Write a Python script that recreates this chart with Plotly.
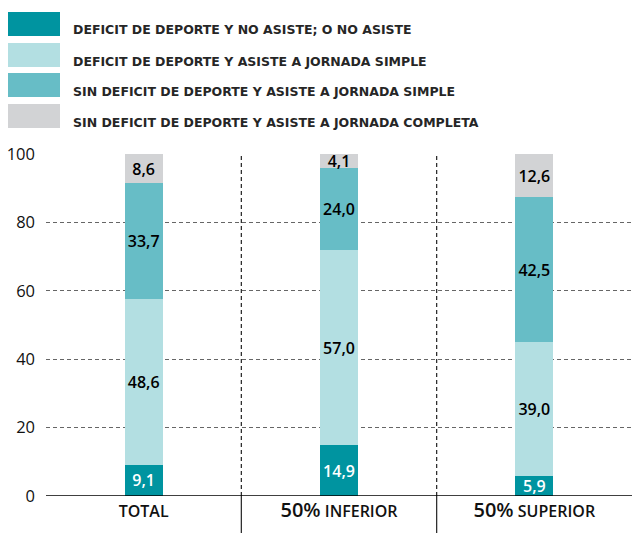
import plotly.graph_objects as go

categories = ["TOTAL", "50% INFERIOR", "50% SUPERIOR"]
series_names = [
    "DEFICIT DE DEPORTE Y NO ASISTE; O NO ASISTE",
    "DEFICIT DE DEPORTE Y ASISTE A JORNADA SIMPLE",
    "SIN DEFICIT DE DEPORTE Y ASISTE A JORNADA SIMPLE",
    "SIN DEFICIT DE DEPORTE Y ASISTE A JORNADA COMPLETA",
]
deficit_no_asiste = [9.1, 14.9, 5.9]
deficit_simple = [48.6, 57.0, 39.0]
sin_deficit_simple = [33.7, 24.0, 42.5]
sin_deficit_completa = [8.6, 4.1, 12.6]
y_ticks = [0, 20, 40, 60, 80, 100]

series_values = [deficit_no_asiste, deficit_simple, sin_deficit_simple, sin_deficit_completa]
colors = ["#0094A0", "#B3DFE2", "#67BDC6", "#D2D3D5"]
text_colors = ["white", "black", "black", "black"]

FONT = "Open Sans"
WIDE = "DejaVu Sans"
W, H = 632, 533
L, R, T, B = 46, 0, 154, 37

fig = go.Figure()
for name, vals, col, tcol in zip(series_names, series_values, colors, text_colors):
    fig.add_trace(go.Bar(
        x=categories, y=vals, name=name,
        marker=dict(color=col, line=dict(width=0)),
        width=0.194,
        texttemplate="%{y:.1f}",
        textposition="inside",
        insidetextanchor="middle",
        constraintext="none",
        textangle=0,
        textfont=dict(family=FONT, size=16, color=tcol, weight=600),
        showlegend=False,
        hoverinfo="skip",
    ))

shapes = []
# vertical separators (dashed inside plot, solid below axis)
for xb in [0.5, 1.5]:
    shapes.append(dict(type="line", xref="x", yref="y", x0=xb, x1=xb, y0=0, y1=100,
                       line=dict(color="#222", width=1.2, dash="4px,3px"), layer="below"))
    shapes.append(dict(type="line", xref="x", yref="paper", x0=xb, x1=xb, y0=-B / (H - T - B), y1=0,
                       line=dict(color="#222", width=1.2)))
# axis line
shapes.append(dict(type="line", xref="paper", yref="y", x0=0, x1=1, y0=0, y1=0,
                   line=dict(color="black", width=1.6)))

annotations = []
# custom legend (pixel -> paper coords)
ph = H - T - B
pw = W - L - R
sw_tops = [12, 43, 73, 104]
for name, col, top in zip(series_names, colors, sw_tops):
    x0 = (8 - L) / pw
    x1 = (60 - L) / pw
    y_top = (H - B - top) / ph
    y_bot = (H - B - (top + 24)) / ph
    shapes.append(dict(type="rect", xref="paper", yref="paper", x0=x0, x1=x1, y0=y_bot, y1=y_top,
                       fillcolor=col, line=dict(width=0)))
    annotations.append(dict(
        xref="paper", yref="paper", x=(71 - L) / pw, y=(H - B - (top + 18)) / ph,
        xanchor="left", yanchor="middle", showarrow=False,
        text=name, font=dict(family=WIDE, size=12.5, color="#262626", weight="bold"),
    ))

ticktext = ["TOTAL",
            "<span style='font-size:20px'>50%</span> INFERIOR",
            "<span style='font-size:20px'>50%</span> SUPERIOR"]

fig.update_layout(
    width=W, height=H,
    margin=dict(l=L, r=R, t=T, b=B, pad=0, autoexpand=False),
    plot_bgcolor="white", paper_bgcolor="white",
    barmode="stack",
    separators=",.",
    bargap=0.8,
    shapes=shapes,
    annotations=annotations,
    font=dict(family=FONT, color="#111"),
    xaxis=dict(
        range=[-0.5, 2.5], automargin=False, fixedrange=True,
        tickmode="array", tickvals=[0, 1, 2], ticktext=ticktext,
        showgrid=False, showline=False, zeroline=False, ticks="",
        tickfont=dict(family=FONT, size=16, color="#111", weight=600),
        ticklabelstandoff=4,
    ),
    yaxis=dict(
        range=[0, 100], tickvals=y_ticks, automargin=False, fixedrange=True,
        showgrid=True, gridcolor="#666", gridwidth=1, griddash="4px,3px",
        zeroline=False, showline=False, ticks="",
        ticklabelstandoff=10,
        tickfont=dict(family=FONT, size=16.5, color="#111"),
    ),
    uniformtext=dict(mode=False),
)

fig.write_html("out.html", config={"displayModeBar": False},
               post_script="document.body.style.margin='0';document.body.style.padding='0';")
